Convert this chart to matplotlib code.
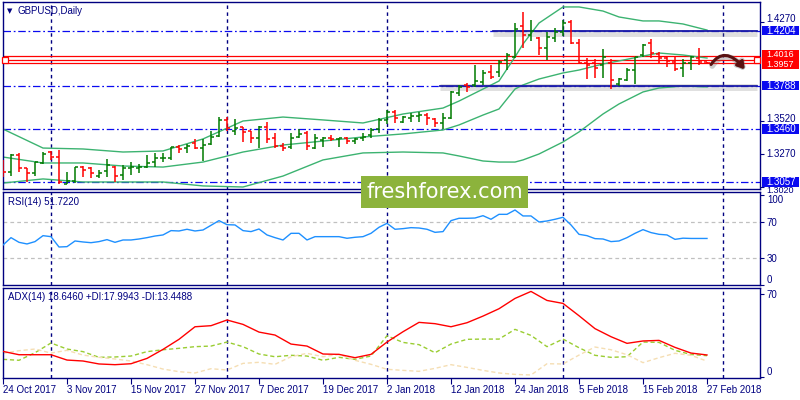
import numpy as np
import matplotlib
matplotlib.use("Agg")
import matplotlib.pyplot as plt
from matplotlib.patches import Rectangle, FancyArrowPatch
from matplotlib.path import Path
import matplotlib.transforms as mtransforms

# ---------------------------------------------------------------------------
# Data
# ---------------------------------------------------------------------------
opens = [1.3212, 1.3131, 1.3262, 1.3161, 1.3123, 1.3199, 1.3288, 1.3245, 1.3045, 1.3065,
         1.3169, 1.3166, 1.3106, 1.3144, 1.3169, 1.3111, 1.3161, 1.3161, 1.3174, 1.3207,
         1.3237, 1.3237, 1.3325, 1.3313, 1.3351, 1.3318, 1.3343, 1.3406, 1.3528, 1.3444,
         1.3472, 1.3444, 1.3389, 1.3472, 1.3394, 1.3333, 1.3326, 1.3399, 1.3432, 1.3313,
         1.3376, 1.3394, 1.3381, 1.3389, 1.3371, 1.3389, 1.3414, 1.3460, 1.3528, 1.3586,
         1.3515, 1.3540, 1.3558, 1.3565, 1.3535, 1.3502, 1.3540, 1.3730, 1.3793, 1.3793,
         1.3818, 1.3894, 1.3894, 1.3982, 1.4002, 1.4240, 1.4172, 1.4151, 1.4075, 1.4151,
         1.4192, 1.4267, 1.4110, 1.3957, 1.3957, 1.3944, 1.3962, 1.3800, 1.3831, 1.3906,
         1.4020, 1.4108, 1.4028, 1.3995, 1.3969, 1.3919, 1.3957, 1.3995, 1.3964]
highs = [1.3225, 1.3267, 1.3275, 1.3166, 1.3212, 1.3283, 1.3293, 1.3300, 1.3131, 1.3171,
         1.3176, 1.3171, 1.3149, 1.3232, 1.3181, 1.3187, 1.3207, 1.3192, 1.3262, 1.3280,
         1.3275, 1.3325, 1.3338, 1.3343, 1.3384, 1.3384, 1.3444, 1.3553, 1.3553, 1.3535,
         1.3477, 1.3446, 1.3482, 1.3515, 1.3427, 1.3351, 1.3427, 1.3457, 1.3444, 1.3419,
         1.3401, 1.3414, 1.3394, 1.3396, 1.3389, 1.3427, 1.3464, 1.3545, 1.3600, 1.3603,
         1.3560, 1.3578, 1.3591, 1.3578, 1.3545, 1.3578, 1.3747, 1.3793, 1.3808, 1.3944,
         1.3906, 1.3944, 1.3982, 1.4033, 1.4260, 1.4343, 1.4285, 1.4159, 1.4197, 1.4222,
         1.4285, 1.4285, 1.4140, 1.3995, 1.3987, 1.4063, 1.3987, 1.3843, 1.3919, 1.4007,
         1.4103, 1.4139, 1.4045, 1.4007, 1.4002, 1.3987, 1.4012, 1.4071, 1.3969]
lows = [1.3098, 1.3106, 1.3131, 1.3055, 1.3106, 1.3192, 1.3225, 1.3040, 1.3040, 1.3048,
        1.3098, 1.3085, 1.3085, 1.3098, 1.3060, 1.3073, 1.3111, 1.3123, 1.3161, 1.3174,
        1.3212, 1.3225, 1.3280, 1.3275, 1.3308, 1.3220, 1.3338, 1.3401, 1.3444, 1.3414,
        1.3363, 1.3356, 1.3318, 1.3351, 1.3318, 1.3295, 1.3308, 1.3389, 1.3300, 1.3308,
        1.3326, 1.3369, 1.3326, 1.3343, 1.3343, 1.3369, 1.3389, 1.3427, 1.3495, 1.3502,
        1.3502, 1.3515, 1.3515, 1.3490, 1.3477, 1.3459, 1.3535, 1.3712, 1.3737, 1.3780,
        1.3793, 1.3838, 1.3856, 1.3906, 1.3995, 1.4075, 1.4126, 1.4020, 1.3982, 1.4116,
        1.4166, 1.4101, 1.3955, 1.3836, 1.3843, 1.3843, 1.3760, 1.3785, 1.3826, 1.3800,
        1.4007, 1.3995, 1.3962, 1.3932, 1.3901, 1.3856, 1.3906, 1.3944, 1.3952]
closes = [1.3131, 1.3262, 1.3161, 1.3128, 1.3207, 1.3270, 1.3245, 1.3055, 1.3065, 1.3169,
          1.3146, 1.3123, 1.3123, 1.3187, 1.3106, 1.3161, 1.3171, 1.3171, 1.3199, 1.3237,
          1.3240, 1.3320, 1.3308, 1.3333, 1.3313, 1.3338, 1.3401, 1.3528, 1.3470, 1.3470,
          1.3439, 1.3394, 1.3472, 1.3384, 1.3333, 1.3313, 1.3389, 1.3420, 1.3333, 1.3389,
          1.3389, 1.3381, 1.3389, 1.3369, 1.3381, 1.3401, 1.3452, 1.3528, 1.3586, 1.3540,
          1.3553, 1.3560, 1.3565, 1.3540, 1.3502, 1.3540, 1.3737, 1.3780, 1.3780, 1.3823,
          1.3881, 1.3856, 1.3964, 1.4020, 1.4217, 1.4172, 1.4202, 1.4070, 1.4159, 1.4197,
          1.4260, 1.4112, 1.3960, 1.3944, 1.3919, 1.4007, 1.3831, 1.3836, 1.3906, 1.4002,
          1.4093, 1.4033, 1.3995, 1.3977, 1.3911, 1.3957, 1.4002, 1.3969, 1.3957]

# Bollinger bands (20, 2), sampled at these bar positions
bb_idx = [0, 5, 10, 15, 20, 25, 30, 35, 40, 45, 50, 55, 57, 60, 62, 64, 65, 67,
          70, 72, 75, 77, 80, 82, 85, 88]
bb_upper = [1.3459, 1.3315, 1.3308, 1.3285, 1.3293, 1.3384, 1.3520, 1.3550, 1.3528,
            1.3505, 1.3573, 1.3618, 1.3671, 1.3762, 1.3823, 1.4005, 1.4103, 1.4262,
            1.4384, 1.4384, 1.4353, 1.4308, 1.4278, 1.4278, 1.4255, 1.4209]
bb_middle = [1.3247, 1.3202, 1.3202, 1.3179, 1.3171, 1.3209, 1.3285, 1.3338, 1.3368,
             1.3399, 1.3422, 1.3452, 1.3490, 1.3565, 1.3611, 1.3762, 1.3793, 1.3838,
             1.3884, 1.3906, 1.3952, 1.3975, 1.4012, 1.4035, 1.4020, 1.3997]
bb_lower = [1.3050, 1.3081, 1.3058, 1.3058, 1.3058, 1.3028, 1.3020, 1.3103, 1.3225,
            1.3278, 1.3285, 1.3278, 1.3255, 1.3217, 1.3209, 1.3209, 1.3225, 1.3270,
            1.3361, 1.3437, 1.3573, 1.3649, 1.3740, 1.3770, 1.3785, 1.3778]

rsi = [44.4, 52.6, 47.4, 45.6, 48.2, 54.8, 53.7, 42.2, 42.6, 48.9,
       47.8, 47.0, 48.2, 50.4, 47.4, 50.0, 50.0, 51.1, 52.6, 54.4,
       55.6, 60.4, 60.0, 61.9, 60.0, 61.1, 66.3, 71.5, 67.0, 66.7,
       60.4, 59.3, 62.2, 55.6, 52.6, 50.0, 57.4, 57.4, 50.0, 53.7,
       53.7, 53.7, 53.7, 51.9, 53.0, 53.7, 57.4, 64.1, 68.5, 61.9,
       62.6, 63.7, 63.3, 61.9, 58.5, 59.3, 71.5, 74.1, 74.1, 74.4,
       77.0, 73.0, 78.5, 78.5, 83.3, 76.7, 76.7, 70.0, 71.1, 73.0,
       75.2, 66.7, 56.3, 54.8, 51.5, 51.1, 48.2, 48.9, 52.6, 57.4,
       61.5, 58.2, 56.3, 55.6, 50.7, 52.0, 51.7, 51.7, 51.7]

# ADX(14), +DI, -DI sampled every second bar
adx_idx = list(range(0, 89, 2))
adx = [21.6, 18.8, 18.8, 18.8, 14.3, 13.5, 11.0, 10.4, 11.2, 15.7, 23.3, 31.8, 42.4,
       43.3, 48.1, 44.4, 37.9, 35.4, 27.8, 26.1, 19.4, 19.1, 16.3, 19.1, 29.5,
       38.2, 46.1, 45.0, 42.4, 45.8, 51.4, 57.6, 66.3, 72.2, 64.6, 62.1, 51.7, 40.8,
       34.0, 28.4, 30.4, 30.9, 25.0, 20.2, 18.6]
plus_di = [14.9, 14.1, 20.5, 28.7, 23.6, 21.4, 16.6, 16.9, 17.7, 21.4, 23.0, 24.2, 25.6,
           26.1, 29.5, 25.6, 19.4, 17.1, 18.3, 17.7, 14.1, 16.6, 14.9, 17.7, 34.8,
           29.2, 27.3, 20.5, 27.8, 31.8, 32.0, 32.0, 40.2, 35.1, 25.6, 32.0, 24.7, 18.3,
           16.6, 17.1, 29.5, 29.2, 22.5, 19.0, 18.0]
minus_di = [20.0, 22.2, 23.6, 20.2, 22.5, 18.5, 16.6, 15.2, 13.5, 10.4, 6.7, 4.5, 3.4,
            7.0, 5.9, 11.5, 12.4, 10.7, 17.1, 20.0, 17.1, 19.1, 14.1, 10.7, 6.5,
            5.6, 4.8, 7.3, 10.4, 8.1, 5.6, 3.4, 2.2, 1.7, 11.2, 11.0, 18.5, 25.3,
            23.0, 18.8, 12.1, 16.3, 20.0, 18.3, 13.4]

date_ticks = [0, 8, 16, 24, 32, 40, 48, 56, 64, 72, 80, 88]
date_labels = ["24 Oct 2017", "3 Nov 2017", "15 Nov 2017", "27 Nov 2017", "7 Dec 2017",
               "19 Dec 2017", "2 Jan 2018", "12 Jan 2018", "24 Jan 2018", "5 Feb 2018",
               "15 Feb 2018", "27 Feb 2018"]
grid_bars = [6, 28, 48, 70, 90]

support_levels = [1.4204, 1.3788, 1.3460, 1.3057]
red_levels = [1.4016, 1.3982, 1.3957]
price_ticks = [1.4270, 1.3520, 1.3270, 1.3020]

# ---------------------------------------------------------------------------
# Figure layout (MT4 style, pixel-based)
# ---------------------------------------------------------------------------
W, H = 800, 400
NAVY = "#000080"
BLUE = "#0a0af0"
RED = "#ff0000"
plt.rcParams["font.family"] = ["Liberation Sans", "DejaVu Sans"]
plt.rcParams["font.size"] = 7

fig = plt.figure(figsize=(W / 100, H / 100), dpi=100, facecolor="white")


def px_axes(x0, y0, x1, y1):
    return fig.add_axes([x0 / W, 1 - y1 / H, (x1 - x0) / W, (y1 - y0) / H])


ax = px_axes(2.5, 2, 760, 189)
ax_rsi = px_axes(2.5, 192, 760, 285)
ax_adx = px_axes(2.5, 288, 760, 378)

XLIM = ((2.5 - 3) / 8, (760 - 3) / 8)
for a in (ax, ax_rsi, ax_adx):
    a.set_xlim(*XLIM)
    for s in a.spines.values():
        s.set_color(NAVY)
        s.set_linewidth(1.0)
    a.yaxis.tick_right()
    a.tick_params(axis="y", direction="out", length=3, width=0.8, colors=NAVY,
                  labelcolor=NAVY, labelsize=7, pad=2)
    a.tick_params(axis="x", bottom=False, labelbottom=False)
    for gx in grid_bars:
        a.axvline(gx, color=NAVY, lw=1.0, ls=(0, (2.5, 2.5)), zorder=1)

# --- main price panel ---
ax.set_ylim(1.30048, 1.44215)
x = np.arange(len(opens))
o, h, l, c = map(np.array, (opens, highs, lows, closes))
cols = np.where(c >= o, "#007a00", RED)

for lvl in support_levels:
    ax.axhline(lvl, color=BLUE, lw=0.9, ls=(0, (6, 2.2, 1.4, 2.2)), zorder=1)
for lvl in red_levels:
    ax.axhline(lvl, color=RED, lw=0.9, zorder=2)
ax.plot([0.25, 94.2], [1.3982, 1.3982], ls="none", marker="s", ms=4,
        mfc="white", mec=RED, mew=0.9, zorder=4, clip_on=False)

# shadowed support/resistance segments
for lvl, x_start in ((1.4204, 61.2), (1.3788, 54.6)):
    ax.plot([x_start, 94.2], [lvl - 0.0014, lvl - 0.0014], color="#808080", lw=5,
            alpha=0.25, solid_capstyle="butt", zorder=2)
    ax.plot([x_start, 94.2], [lvl, lvl], color="#1a1aa8", lw=1.3, zorder=3)

ax.plot(bb_idx, bb_upper, color="#3cb371", lw=1.0, zorder=2)
ax.plot(bb_idx, bb_middle, color="#3cb371", lw=1.0, zorder=2)
ax.plot(bb_idx, bb_lower, color="#3cb371", lw=1.0, zorder=2)

ax.vlines(x, l, h, colors=cols, lw=1.1, zorder=3)
ax.hlines(o, x - 0.33, x, colors=cols, lw=1.1, zorder=3)
ax.hlines(c, x, x + 0.33, colors=cols, lw=1.1, zorder=3)

# forecast arrow
verts = [(88.5, 1.3948), (89.6, 1.4045), (91.0, 1.4040), (92.7, 1.3912)]
codes = [Path.MOVETO, Path.CURVE4, Path.CURVE4, Path.CURVE4]
for dy, col, alpha, lw in ((-0.0012, "#707070", 0.35, 4.0), (0.0, "#5a1212", 1.0, 2.2)):
    shifted = [(vx + 0.15 * (dy != 0), vy + dy) for vx, vy in verts]
    arr = FancyArrowPatch(path=Path(shifted, codes),
                          arrowstyle="-|>,head_length=4,head_width=2.6",
                          color=col, lw=lw, alpha=alpha, zorder=5)
    ax.add_patch(arr)

# plain price labels: tick marks from the axis, text placed by hand so that
# the ones next to boxed labels sit just clear of the boxes
ax.set_yticks(price_ticks)
ax.set_yticklabels([""] * len(price_ticks))
trans = mtransforms.blended_transform_factory(ax.transAxes, ax.transData)
label_x = 1 + 6 / 757.5
for v, dy_px, fs in ((1.4270, 2.5, 7), (1.3520, 2.0, 7), (1.3270, 0.0, 7),
                     (1.3020, -3.5, 6.5)):
    off = mtransforms.ScaledTranslation(0, dy_px / 100, fig.dpi_scale_trans)
    ax.text(label_x, v, f"{v:.4f}", transform=trans + off, color=NAVY, fontsize=fs,
            va="center", ha="left", clip_on=False, zorder=5)

# boxed price labels on the right axis (the two red ones form one block)
box_h = 9.5 / 1320
box_x0 = 1 + 1.5 / 757.5
box_w = 37 / 757.5
for lvl in (1.4204, 1.3788, 1.3460, 1.3057):
    ax.add_patch(Rectangle((box_x0, lvl - box_h / 2), box_w, box_h, transform=trans,
                           facecolor=BLUE, edgecolor="none", clip_on=False, zorder=6))
    ax.text(box_x0 + 4.5 / 757.5, lvl, f"{lvl:.4f}", transform=trans, color="white",
            fontsize=7, va="center", ha="left", clip_on=False, zorder=7)

red_top, red_bot = 1.4016 + 5.5 / 1320, 1.3957 - 5.5 / 1320
ax.add_patch(Rectangle((box_x0, red_bot), box_w, red_top - red_bot, transform=trans,
                       facecolor=RED, edgecolor="none", clip_on=False, zorder=6))
for lvl, dy_px in ((1.4016, 1.3), (1.3957, -1.3)):
    off = mtransforms.ScaledTranslation(0, dy_px / 100, fig.dpi_scale_trans)
    ax.text(box_x0 + 4.5 / 757.5, lvl, f"{lvl:.4f}", transform=trans + off,
            color="white", fontsize=6.5, va="center", ha="left", clip_on=False,
            zorder=7)

# --- RSI panel ---
ax_rsi.set_ylim(0, 103.3)
for lvl in (70, 30):
    ax_rsi.axhline(lvl, color="#c0c0c0", lw=0.9, ls=(0, (3, 2.5)), zorder=1)
ax_rsi.plot(x, rsi, color="#1e90ff", lw=1.0, zorder=3)
ax_rsi.set_yticks([100, 70, 30, 0])
ax_rsi.set_yticklabels(["100", "70", "30", "0"])
rl = ax_rsi.get_yticklabels()
rl[0].set_va("top")
rl[3].set_va("bottom")

# --- ADX panel ---
ax_adx.set_ylim(-0.84, 75.1)
ax_adx.plot(adx_idx, plus_di, color="#9acd32", lw=1.0, ls=(0, (3, 2)), zorder=2)
ax_adx.plot(adx_idx, minus_di, color="#f5deb3", lw=1.0, ls=(0, (3, 2)), zorder=2)
ax_adx.plot(adx_idx, adx, color=RED, lw=1.0, zorder=3)
ax_adx.set_yticks([70, 0])
ax_adx.set_yticklabels(["70", "0"])
ax_adx.get_yticklabels()[1].set_va("bottom")

ax_adx.tick_params(axis="x", bottom=True, labelbottom=True, direction="out", length=4,
                   width=0.8, colors=NAVY, labelcolor=NAVY, labelsize=7, pad=1)
ax_adx.set_xticks(date_ticks)
ax_adx.set_xticklabels(date_labels, ha="left")

# --- texts ---
fig.text(7 / W, 1 - 11 / H, "\u25bc", color=NAVY, fontsize=5, va="center",
         family="DejaVu Sans")
fig.text(18 / W, 1 - 11 / H, "GBPUSD,Daily", color=NAVY, fontsize=7, va="center")
fig.text(8 / W, 1 - 202 / H, "RSI(14) 51.7220", color=NAVY, fontsize=7, va="center")
fig.text(8 / W, 1 - 297 / H, "ADX(14) 18.6460 +DI:17.9943 -DI:13.4488", color=NAVY,
         fontsize=7, va="center")

# watermark
fig.add_artist(Rectangle((361 / W, 1 - 208 / H), 167 / W, 32 / H,
                         transform=fig.transFigure, facecolor="#8cb33c",
                         edgecolor="none", zorder=20))
fig.text(444.5 / W, 1 - 192 / H, "freshforex.com", color="white", fontsize=15,
         ha="center", va="center", family="DejaVu Sans", zorder=21)

fig.savefig("out.png", dpi=100, facecolor="white")
